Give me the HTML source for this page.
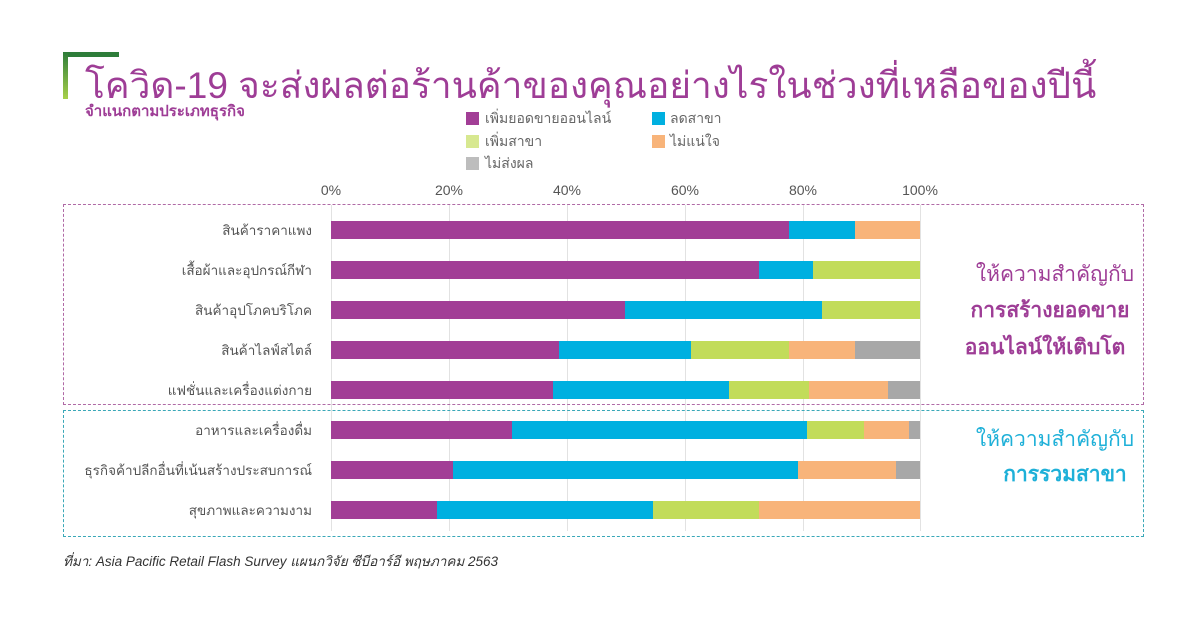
<!DOCTYPE html>
<html><head><meta charset="utf-8"><style>
body{margin:0;width:1200px;height:628px;background:#fff;position:relative;overflow:hidden;font-family:"Liberation Sans","DejaVu Sans",sans-serif;}
.a{position:absolute;white-space:nowrap}
.lab{position:absolute;right:888px;font-size:13.5px;color:#555;transform:translateY(-50%)}
.tick{position:absolute;top:182px;font-size:14px;color:#555;transform:translateX(-50%)}
.g{position:absolute;top:205px;width:1px;height:326px;background:#e2e2e2}
.bar{position:absolute;height:18px}
.sq{position:absolute;width:13px;height:13px}
.lt{position:absolute;font-size:14px;color:#666}
</style></head><body>
<div class="a" style="left:63px;top:52px;width:56px;height:5px;background:#2e7d3a"></div>
<div class="a" style="left:63px;top:52px;width:5px;height:47px;background:linear-gradient(#2e7d3a,#a8d04a)"></div>
<div class="a" style="left:85px;top:56px;font-size:37px;color:#9e3d96">โควิด-19 จะส่งผลต่อร้านค้าของคุณอย่างไรในช่วงที่เหลือของปีนี้</div>
<div class="a" style="left:85px;top:99px;font-size:15px;color:#9e3d96;font-weight:bold">จำแนกตามประเภทธุรกิจ</div>

<div class="sq" style="left:466px;top:112px;background:#a23e96"></div><div class="lt" style="left:485px;top:108px">เพิ่มยอดขายออนไลน์</div>
<div class="sq" style="left:652px;top:112px;background:#00b0e0"></div><div class="lt" style="left:670px;top:108px">ลดสาขา</div>
<div class="sq" style="left:466px;top:135px;background:#d7e890"></div><div class="lt" style="left:485px;top:131px">เพิ่มสาขา</div>
<div class="sq" style="left:652px;top:135px;background:#f8b47a"></div><div class="lt" style="left:670px;top:131px">ไม่แน่ใจ</div>
<div class="sq" style="left:466px;top:157px;background:#bdbdbd"></div><div class="lt" style="left:485px;top:153px">ไม่ส่งผล</div>

<div class="tick" style="left:331px">0%</div><div class="tick" style="left:449px">20%</div><div class="tick" style="left:567px">40%</div><div class="tick" style="left:685px">60%</div><div class="tick" style="left:803px">80%</div><div class="tick" style="left:920px">100%</div>
<div class="g" style="left:331px"></div><div class="g" style="left:449px"></div><div class="g" style="left:567px"></div><div class="g" style="left:685px"></div><div class="g" style="left:803px"></div><div class="g" style="left:920px"></div>

<div class="a" style="left:63px;top:204px;width:1079px;height:199px;border:1px dashed #b06aa6"></div>
<div class="a" style="left:63px;top:410px;width:1079px;height:125px;border:1px dashed #3aa8b8"></div>

<div class="lab" style="top:230px">สินค้าราคาแพง</div>
<div class="lab" style="top:270px">เสื้อผ้าและอุปกรณ์กีฬา</div>
<div class="lab" style="top:310px">สินค้าอุปโภคบริโภค</div>
<div class="lab" style="top:350px">สินค้าไลฟ์สไตล์</div>
<div class="lab" style="top:390px">แฟชั่นและเครื่องแต่งกาย</div>
<div class="lab" style="top:430px">อาหารและเครื่องดื่ม</div>
<div class="lab" style="top:470px">ธุรกิจค้าปลีกอื่นที่เน้นสร้างประสบการณ์</div>
<div class="lab" style="top:510px">สุขภาพและความงาม</div>

<svg class="a" style="left:0;top:0" width="1200" height="628">
<g>
<rect x="331" y="221" width="458" height="18" fill="#a23e96"/><rect x="789" y="221" width="66" height="18" fill="#00b0e0"/><rect x="855" y="221" width="65" height="18" fill="#f8b47a"/>
<rect x="331" y="261" width="428" height="18" fill="#a23e96"/><rect x="759" y="261" width="54" height="18" fill="#00b0e0"/><rect x="813" y="261" width="107" height="18" fill="#c2dc5a"/>
<rect x="331" y="301" width="294" height="18" fill="#a23e96"/><rect x="625" y="301" width="197" height="18" fill="#00b0e0"/><rect x="822" y="301" width="98" height="18" fill="#c2dc5a"/>
<rect x="331" y="341" width="228" height="18" fill="#a23e96"/><rect x="559" y="341" width="132" height="18" fill="#00b0e0"/><rect x="691" y="341" width="98" height="18" fill="#c2dc5a"/><rect x="789" y="341" width="66" height="18" fill="#f8b47a"/><rect x="855" y="341" width="65" height="18" fill="#a8a8a8"/>
<rect x="331" y="381" width="222" height="18" fill="#a23e96"/><rect x="553" y="381" width="176" height="18" fill="#00b0e0"/><rect x="729" y="381" width="80" height="18" fill="#c2dc5a"/><rect x="809" y="381" width="79" height="18" fill="#f8b47a"/><rect x="888" y="381" width="32" height="18" fill="#a8a8a8"/>
<rect x="331" y="421" width="181" height="18" fill="#a23e96"/><rect x="512" y="421" width="295" height="18" fill="#00b0e0"/><rect x="807" y="421" width="57" height="18" fill="#c2dc5a"/><rect x="864" y="421" width="45" height="18" fill="#f8b47a"/><rect x="909" y="421" width="11" height="18" fill="#a8a8a8"/>
<rect x="331" y="461" width="122" height="18" fill="#a23e96"/><rect x="453" y="461" width="345" height="18" fill="#00b0e0"/><rect x="798" y="461" width="98" height="18" fill="#f8b47a"/><rect x="896" y="461" width="24" height="18" fill="#a8a8a8"/>
<rect x="331" y="501" width="106" height="18" fill="#a23e96"/><rect x="437" y="501" width="216" height="18" fill="#00b0e0"/><rect x="653" y="501" width="106" height="18" fill="#c2dc5a"/><rect x="759" y="501" width="161" height="18" fill="#f8b47a"/>
</g></svg>

<div class="a" style="left:970px;width:170px;text-align:center;top:258px;font-size:21px;color:#9e3d96">ให้ความสำคัญกับ</div>
<div class="a" style="left:960px;width:180px;text-align:center;top:294px;font-size:21px;color:#9e3d96;font-weight:bold">การสร้างยอดขาย</div>
<div class="a" style="left:950px;width:190px;text-align:center;top:331px;font-size:21px;color:#9e3d96;font-weight:bold">ออนไลน์ให้เติบโต</div>
<div class="a" style="left:970px;width:170px;text-align:center;top:423px;font-size:21px;color:#1eb0d8">ให้ความสำคัญกับ</div>
<div class="a" style="left:990px;width:150px;text-align:center;top:458px;font-size:21px;color:#1eb0d8;font-weight:bold">การรวมสาขา</div>

<div class="a" style="left:63px;top:550px;font-size:13.5px;font-style:italic;color:#333">ที่มา: Asia Pacific Retail Flash Survey แผนกวิจัย ซีบีอาร์อี พฤษภาคม 2563</div>
</body></html>
